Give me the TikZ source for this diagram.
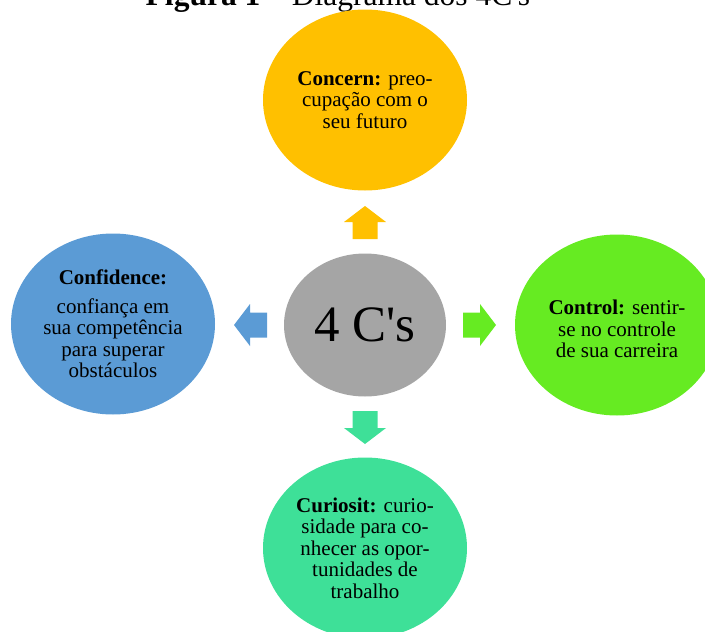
\documentclass[tikz,border=0pt]{standalone}
\usepackage{fontspec}
\setmainfont{Liberation Serif}
\usetikzlibrary{shapes.geometric}

\definecolor{concerncol}{HTML}{FFC000}
\definecolor{confidencecol}{HTML}{5B9BD5}
\definecolor{controlcol}{HTML}{66EB22}
\definecolor{curiosicol}{HTML}{3EE098}
\definecolor{centercol}{HTML}{A5A5A5}

\tikzset{
  blockarrow/.pic={\path[pic actions] (-16.5,-12.5) -- (0.5,-12.5) -- (0.5,-21) -- (16.5,0) -- (0.5,21) -- (0.5,12.5) -- (-16.5,12.5) -- cycle;}
}

\begin{document}
\begin{tikzpicture}[x=1pt,y=-1pt,
  cball/.style={ellipse, inner sep=0pt, minimum width=204pt, minimum height=181pt, align=center, font=\fontsize{21}{21.5}\selectfont}]
\useasboundingbox (0,0) rectangle (705,632);

\node[anchor=base] (title) at (338,5) {\fontsize{31.5}{33}\selectfont\textbf{Figura 1} -- Diagrama dos 4C\textquotesingle s};

\node[ellipse, fill=centercol, inner sep=0pt, minimum width=162pt, minimum height=143pt, font=\fontsize{51}{51}\selectfont] (center) at (365,325) {4 C\textquotesingle s};

\node[cball, fill=concerncol] (concern) at (365,100) {\textbf{Concern:} preo-\\cupação com o\\seu futuro};
\node[cball, fill=confidencecol] (confidence) at (113,324) {\textbf{Confidence:}\\[7pt]confiança em\\sua competência\\para superar\\obstáculos};
\node[cball, fill=controlcol] (control) at (617,325) {\raisebox{-12pt}[0pt][0pt]{\begin{tabular}{@{}c@{}}\textbf{Control:} sentir-\\se no controle\\de sua carreira\end{tabular}}};
\node[cball, fill=curiosicol] (curiosit) at (365,548) {\textbf{Curiosit:} curio-\\sidade para co-\\nhecer as opor-\\tunidades de\\trabalho};

\pic[fill=concerncol, rotate=90] at (365,222.5) {blockarrow};
\pic[fill=curiosicol, rotate=-90] at (365,427.5) {blockarrow};
\pic[fill=controlcol] at (479.5,325) {blockarrow};
\pic[fill=confidencecol, rotate=180] at (250.5,325) {blockarrow};
\end{tikzpicture}
\end{document}
